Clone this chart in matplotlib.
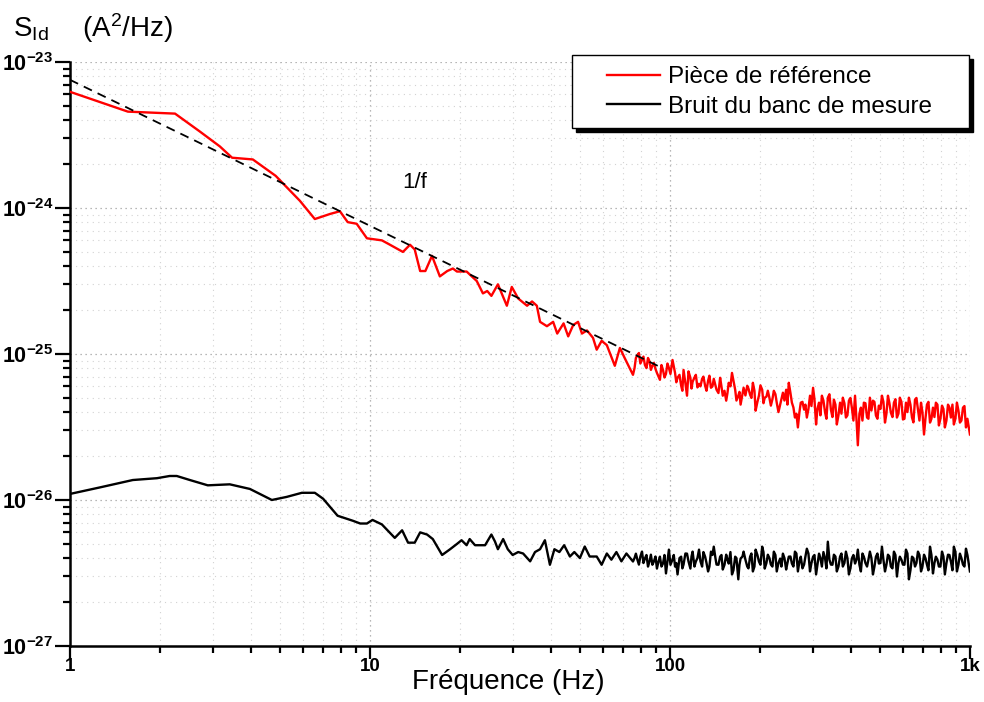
import numpy as np
import matplotlib
matplotlib.use("Agg")
import matplotlib.pyplot as plt
from matplotlib.patches import Rectangle
from matplotlib.ticker import NullFormatter, LogLocator

plt.rcParams['font.family'] = ['Liberation Sans', 'DejaVu Sans']
plt.rcParams['mathtext.fontset'] = 'custom'
plt.rcParams['mathtext.rm'] = 'Liberation Sans'
plt.rcParams['mathtext.it'] = 'Liberation Sans:italic'
plt.rcParams['mathtext.bf'] = 'Liberation Sans:bold'

UNIT = 1e-26  # valeurs ci-dessous en 1e-26 A^2/Hz

# Pièce de référence, partie basse fréquence
red_lf_freq = [1.0, 1.56, 2.24, 2.71, 3.16, 3.47, 4.07, 4.85, 5.84, 6.55,
               7.36, 7.94, 8.43, 9.03, 9.77, 10.96, 11.48, 12.88, 13.6, 14.1,
               14.7, 15.3, 16.1, 17.1, 18.1, 18.9, 19.5, 21.0, 22.7, 23.8,
               24.6, 25.4, 26.7, 28.6, 29.7, 31.2, 33.4, 34.7, 36.0, 36.9,
               38.9, 40.8, 42.1, 44.2, 45.8, 47.6, 49.4, 50.9, 52.9, 55.4,
               57.0, 59.2, 61.6, 65.5, 68.1, 70.8, 73.6]
red_lf_psd = [625, 457, 443, 334, 264, 221, 215, 166, 112, 84,
              91, 95, 80, 78, 62, 60, 57, 50, 56, 52,
              37, 37, 47, 34, 37, 38.5, 36.7, 36.7, 31.6, 26,
              27, 25, 30, 21.4, 28.8, 24, 21.4, 22.9, 21.4, 16.6,
              15.5, 16.6, 13.8, 16.2, 13.2, 15.8, 16.6, 13.8, 14.5, 12.9,
              10.7, 12.3, 11.5, 8.3, 11.0, 9.3, 7.9]

# Bruit du banc, partie basse fréquence
blk_lf_freq = [1.0, 1.26, 1.62, 1.95, 2.15, 2.27, 2.51, 2.88, 3.41, 3.98,
               4.71, 5.28, 5.93, 6.55, 6.98, 7.80, 8.78, 9.28, 9.77, 10.2,
               10.96, 12.1, 12.8, 13.4, 14.1, 14.7, 15.5, 16.2, 17.4, 18.5,
               19.5, 20.2, 21.0, 21.5, 22.4, 24.2, 25.4, 26.1, 26.7, 27.8,
               28.8, 29.9, 31.2, 32.4, 34.2, 35.5, 36.9, 38.3, 39.8, 41.2,
               42.8, 44.4, 46.4, 48.0, 50.1, 52.0, 54.0, 57.0, 59.2, 61.6,
               63.8, 66.3, 68.9, 71.6]
blk_lf_psd = [1.10, 1.22, 1.37, 1.41, 1.46, 1.46, 1.37, 1.26, 1.28, 1.19,
              1.00, 1.05, 1.12, 1.12, 1.02, 0.78, 0.72, 0.69, 0.69, 0.73,
              0.68, 0.55, 0.62, 0.51, 0.51, 0.60, 0.58, 0.54, 0.42, 0.46,
              0.50, 0.53, 0.49, 0.54, 0.49, 0.49, 0.58, 0.52, 0.46, 0.54,
              0.46, 0.42, 0.44, 0.43, 0.38, 0.44, 0.46, 0.53, 0.36, 0.46,
              0.44, 0.49, 0.41, 0.44, 0.40, 0.48, 0.41, 0.41, 0.36, 0.43,
              0.39, 0.44, 0.38, 0.43]

# partie haute fréquence : deux grilles de points relevés (a et b, intercalées)
hf_freq_a = [75.3, 77.0, 78.8, 80.7, 82.5, 84.5, 86.4, 88.4, 90.5, 92.6, 94.8, 97.0, 99.2,
             102, 104, 106, 109, 111, 114, 117, 119, 122, 125, 128, 131, 134, 137, 140, 143, 147,
             150, 154, 157, 161, 165, 169, 172, 176, 181, 185,
             189, 193, 198, 203, 207, 212, 217, 222, 227, 233,
             238, 244, 249, 255, 261, 267, 273, 280, 286, 293,
             300, 307, 314, 321, 329, 336, 344, 352, 360, 369,
             377, 386, 395, 404, 414, 423, 433, 443, 454, 464,
             475, 486, 497, 509, 521, 533, 545, 558, 571, 584,
             598, 612, 626, 641, 656, 671, 687, 703, 719, 736,
             753, 770, 788, 807, 825, 845, 864, 884, 905, 926,
             948, 970, 1000]
hf_freq_b = [76.2, 77.9, 79.7, 81.6, 83.5, 85.5, 87.4, 89.5, 91.6, 93.7, 95.9, 98.1,
             100.4, 103, 105, 107.6, 110, 112.6, 115.3, 118, 120.7, 123.5, 126.4, 129.3,
             132.4, 135.4, 138.6, 141.8, 145.1,
             148.5, 152, 155.5, 159.1, 162.8, 166.6, 170.5, 174.5, 178.5, 182.7,
             186.9, 191.3, 195.7, 200.3, 205, 209.7, 214.6, 219.6, 224.7, 230,
             235.3, 240.8, 246.4, 252.2, 258, 264, 270.2, 276.5, 282.9, 289.5,
             296.3, 303.2, 310.2, 317.4, 324.8, 332.4, 340.1, 348.1, 356.2, 364.5,
             373, 381.6, 390.5, 399.6, 408.9, 418.5, 428.2, 438.2, 448.4, 458.8,
             469.5, 480.5, 491.7, 503.1, 514.8, 526.8, 539.1, 551.7, 564.5, 577.7,
             591.1, 604.9, 619, 633.4, 648.1, 663.2, 678.7, 694.5, 710.7, 727.2,
             744.2, 761.5, 779.2, 797.4, 816, 835, 854.4, 874.3, 894.7, 915.5,
             936.8, 958.7, 981]

red_hf_psd_a = [7.20, 9.39, 10.16, 9.10, 8.42, 9.39, 7.78, 8.69, 7.42, 6.65, 7.78, 7.31, 8.03,
                9.10, 7.42, 6.87, 6.06, 7.78, 5.18, 6.87, 6.45, 7.20, 6.25, 6.76, 6.06, 6.55,
                5.87, 6.76, 5.69, 6.87,
                5.18, 4.79, 6.35, 7.42, 5.69, 5.18, 4.50, 5.87, 6.06, 5.26,
                6.35, 4.09, 5.18, 5.69, 5.02, 5.60, 4.43, 5.60, 4.64, 4.50,
                5.43, 5.69, 6.35, 4.64, 3.67, 3.14, 4.64, 4.16, 3.67, 5.18,
                5.87, 3.29, 4.64, 5.18, 3.97, 5.02, 4.16, 4.87, 3.29, 4.64,
                5.02, 3.67, 4.79, 4.29, 5.18, 2.37, 4.29, 4.64, 3.67, 5.02,
                4.79, 3.79, 4.43, 5.18, 3.39, 5.18, 3.97, 4.64, 3.67, 5.02,
                3.56, 4.64, 5.02, 3.67, 4.87, 4.16, 4.64, 2.81, 4.50, 3.39,
                4.29, 4.64, 3.24, 4.43, 3.14, 4.50, 3.67, 3.29, 4.64, 3.39,
                4.29, 3.14, 2.81]
red_hf_psd_b = [8.0, 9.8, 8.6, 9.6, 8.0, 8.9, 8.3, 7.9, 7.0, 8.4, 6.9, 8.6,
                7.3, 8.2, 6.4, 7.2, 5.6, 6.3, 7.6, 5.8, 6.9, 5.9, 6.0, 7.0, 5.6, 7.1,
                6.0, 6.1, 5.4,
                6.0, 5.6, 5.4, 6.0, 6.6, 4.8, 5.5, 5.3, 5.2, 5.8,
                5.0, 5.6, 4.7, 6.1, 4.6, 5.1, 5.0, 4.9, 5.3, 4.0,
                4.9, 4.8, 4.5, 5.4, 4.3, 3.9, 4.0, 4.7, 4.5, 4.2,
                4.4, 4.9, 4.2, 3.8, 4.8, 3.6, 5.3, 3.7, 4.5, 3.8,
                3.9, 4.6, 3.8, 5.0, 3.5, 3.6, 3.9, 3.5, 4.6, 3.6,
                4.1, 4.7, 3.6, 4.2, 4.7, 3.9, 4.6, 3.7, 4.9, 3.9,
                4.7, 3.6, 4.0, 4.5, 3.4, 5.0, 3.5, 4.0, 3.6, 4.7,
                3.6, 3.7, 4.5, 3.6, 4.2, 3.5, 4.3, 4.5, 3.6, 4.1,
                3.5, 4.4, 3.6]

blk_hf_psd_a = [0.379, 0.429, 0.361, 0.443, 0.397, 0.350, 0.422, 0.379, 0.339, 0.409, 0.367, 0.314, 0.457,
                0.391, 0.350, 0.309, 0.409, 0.361, 0.429, 0.339, 0.443, 0.379, 0.457, 0.350, 0.409,
                0.324, 0.443, 0.479, 0.361, 0.409,
                0.334, 0.422, 0.367, 0.309, 0.409, 0.286, 0.397, 0.443, 0.350, 0.409,
                0.324, 0.457, 0.379, 0.479, 0.339, 0.422, 0.361, 0.443, 0.324, 0.397,
                0.429, 0.334, 0.409, 0.367, 0.443, 0.324, 0.409, 0.361, 0.464, 0.324,
                0.409, 0.309, 0.429, 0.350, 0.397, 0.518, 0.361, 0.422, 0.324, 0.409,
                0.350, 0.443, 0.309, 0.397, 0.367, 0.457, 0.324, 0.409, 0.350, 0.443,
                0.309, 0.409, 0.367, 0.479, 0.324, 0.422, 0.350, 0.443, 0.299, 0.409,
                0.361, 0.457, 0.286, 0.409, 0.350, 0.443, 0.324, 0.422, 0.361, 0.479,
                0.314, 0.409, 0.350, 0.443, 0.309, 0.422, 0.379, 0.479, 0.324, 0.429,
                0.361, 0.464, 0.324]
blk_hf_psd_b = [0.40, 0.39, 0.41, 0.37, 0.42, 0.38, 0.36, 0.41, 0.38, 0.35, 0.42, 0.38,
                0.36, 0.42, 0.37, 0.40, 0.34, 0.43, 0.38, 0.41, 0.35, 0.40, 0.38, 0.44, 0.37,
                0.35, 0.42, 0.40, 0.36,
                0.42, 0.36, 0.39, 0.44, 0.33, 0.40, 0.36, 0.41, 0.39, 0.34,
                0.43, 0.35, 0.42, 0.36, 0.44, 0.37, 0.40, 0.35, 0.42, 0.37,
                0.35, 0.40, 0.37, 0.41, 0.35, 0.43, 0.38, 0.34, 0.41, 0.43,
                0.37, 0.42, 0.36, 0.40, 0.44, 0.34, 0.39, 0.36, 0.41, 0.35,
                0.43, 0.37, 0.40, 0.34, 0.42, 0.39, 0.36, 0.43, 0.37, 0.39,
                0.40, 0.35, 0.43, 0.37, 0.39, 0.36, 0.41, 0.34, 0.42, 0.37,
                0.39, 0.36, 0.43, 0.33, 0.40, 0.37, 0.42, 0.35, 0.40, 0.33,
                0.42, 0.37, 0.39, 0.35, 0.41, 0.37, 0.42, 0.33, 0.44, 0.36,
                0.40, 0.35, 0.42]

# droite en 1/f
fit_freq = [1.0, 95.0]
fit_psd = [755, 7.95]

x_ticks = [1, 10, 100, 1000]
x_labels = ['1', '10', '100', '1k']
y_ticks = [1e-27, 1e-26, 1e-25, 1e-24, 1e-23]
y_labels = [r'$\mathbf{10^{-27}}$', r'$\mathbf{10^{-26}}$', r'$\mathbf{10^{-25}}$',
            r'$\mathbf{10^{-24}}$', r'$\mathbf{10^{-23}}$']


def assemble(f_lf, s_lf, s_a, s_b):
    f = np.array(f_lf + hf_freq_a + hf_freq_b)
    s = np.array(s_lf + s_a + s_b) * UNIT
    order = np.argsort(f)
    return f[order], s[order]


red_f, red_s = assemble(red_lf_freq, red_lf_psd, red_hf_psd_a, red_hf_psd_b)
blk_f, blk_s = assemble(blk_lf_freq, blk_lf_psd, blk_hf_psd_a, blk_hf_psd_b)

fig = plt.figure(figsize=(9.84, 7.02), dpi=100)
ax = fig.add_axes([0.0711, 0.0798, 0.9146, 0.8319])

ax.plot(red_f, red_s, color='#ff0000', lw=1.7, zorder=3, label='Pièce de référence')
ax.plot(blk_f, blk_s, color='black', lw=1.7, zorder=3, label='Bruit du banc de mesure')
ax.plot(fit_freq, np.array(fit_psd) * UNIT, color='black', lw=1.3,
        ls=(0, (5, 3.5)), zorder=4)

ax.set_xscale('log')
ax.set_yscale('log')
ax.set_xlim(1, 1000)
ax.set_ylim(1e-27, 1e-23)

ax.set_xticks(x_ticks, x_labels)
ax.set_yticks(y_ticks, y_labels)
ax.xaxis.set_minor_locator(LogLocator(base=10, subs=np.arange(2, 10)))
ax.yaxis.set_minor_locator(LogLocator(base=10, subs=np.arange(2, 10)))
ax.xaxis.set_minor_formatter(NullFormatter())
ax.yaxis.set_minor_formatter(NullFormatter())
for lab in ax.get_xticklabels():
    lab.set_fontweight('bold')
ax.tick_params(axis='x', which='major', labelsize=13.5, length=9, width=1.6, pad=0)
ax.tick_params(axis='y', which='major', labelsize=15.5, length=11, width=1.6, pad=1)
ax.tick_params(which='minor', length=5, width=1.6)
ax.tick_params(direction='out')

for side in ['top', 'right']:
    ax.spines[side].set_visible(False)
for side in ['left', 'bottom']:
    ax.spines[side].set_linewidth(1.8)

ax.set_axisbelow(True)
ax.grid(which='major', color='#a0a0a0', ls=(0, (1, 3)), lw=0.9)
ax.grid(which='minor', color='#d2d2d2', ls=(0, (1, 4)), lw=0.8)

ax.text(14.1, 1.5e-24, '1/f', ha='center', va='center', fontsize=16)

fig.text(0.013, 0.948, r'S$_{\mathrm{Id}}$', fontsize=20, ha='left', va='baseline')
fig.text(0.083, 0.948, r'(A$^{2}$/Hz)', fontsize=20, ha='left', va='baseline')
fig.text(0.517, 0.019, 'Fréquence (Hz)', fontsize=20, ha='center', va='baseline')

# cadre de la légende avec ombre noire
W, H = 984.0, 702.0
shadow = Rectangle(((572 + 4) / W, 1 - (128 + 4) / H), 397 / W, 73 / H,
                   transform=fig.transFigure, facecolor='black', edgecolor='black',
                   clip_on=False, zorder=6)
frame = Rectangle((572 / W, 1 - 128 / H), 397 / W, 73 / H,
                  transform=fig.transFigure, facecolor='white', edgecolor='black',
                  lw=1.0, clip_on=False, zorder=7)
ax.add_patch(shadow)
ax.add_patch(frame)
leg = ax.legend(loc='upper left', bbox_to_anchor=(607 / W, 1 - 66 / H),
                bbox_transform=fig.transFigure, frameon=False, fontsize=17.5,
                borderpad=0, borderaxespad=0, handlelength=2.2,
                handletextpad=0.33, labelspacing=0.32)
leg.set_zorder(8)

fig.savefig('out.png', dpi=100)
